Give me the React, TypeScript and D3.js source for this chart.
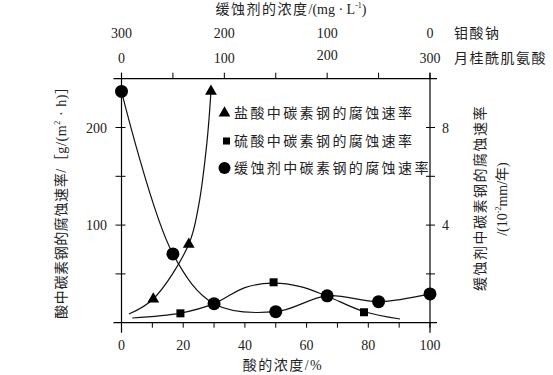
import React from "react";
import * as d3 from "d3";

// acid concentration (%) on the bottom axis
const acidTicks = [0, 10, 20, 30, 40, 50, 60, 70, 80, 90, 100];
const acidLabels = [0, 20, 40, 60, 80, 100];
const leftTicks = [50, 100, 150, 200];
const leftLabels = [100, 200];
const rightTicks = [2, 4, 6, 8];
const rightLabels = [4, 8];
const topTicks = [0, 50, 100, 150, 200, 250, 300];
const molybdateLabels = [300, 200, 100, 0];
const lauroylLabels = [0, 100, 200, 300];

// HCl: [acid %, g/(m2·h)]
const hclMarks: [number, number][] = [[10.3, 24.3], [21.8, 80.3], [29, 237]];
const hclCurve: [number, number][] = [[2.4, 8.9], [10.3, 24.3], [21.8, 80.3], [25, 120], [27.7, 185], [29, 237]];
// H2SO4
const h2so4Marks: [number, number][] = [[19.1, 9.6], [49.3, 41.4], [78.6, 10.7]];
const h2so4Curve: [number, number][] = [[3.5, 4.8], [19.1, 9.8], [30, 19.5], [40, 36], [49, 40.5], [58, 37], [66.5, 27.4], [78.5, 11.5], [90.3, 3.8]];
// inhibitor: lauroyl sarcosine mg/L vs 10^-2 mm/a
const inhConc = [0, 50, 90, 150, 200, 250, 300];
const inhRate = [9.48, 2.82, 0.78, 0.45, 1.1, 0.86, 1.18];

const legendItems = ["盐酸中碳素钢的腐蚀速率", "硫酸中碳素钢的腐蚀速率", "缓蚀剂中碳素钢的腐蚀速率"];

const W = 553;
const H = 375;
const FONT = "'Liberation Serif', 'Noto Sans CJK SC', serif";

export default function App() {
  const x = d3.scaleLinear().domain([0, 100]).range([121.5, 430]);
  const xTop = d3.scaleLinear().domain([0, 300]).range([121.5, 430]); // lauroyl sarcosine
  const xMo = d3.scaleLinear().domain([300, 0]).range([121.5, 430]); // sodium molybdate
  const yL = d3.scaleLinear().domain([0, 250]).range([322.7, 78.7]);
  const yR = d3.scaleLinear().domain([0, 10]).range([322.7, 78.7]);

  const [x0, x1] = x.range();
  const [yb, yt] = yL.range();

  const acidLine = d3
    .line<[number, number]>()
    .x((d) => x(d[0]))
    .y((d) => yL(d[1]))
    .curve(d3.curveCatmullRom.alpha(0.5));

  const inhLine = d3
    .line<number>()
    .x((_, i) => xTop(inhConc[i]))
    .y((d) => yR(d))
    .curve(d3.curveCatmullRom.alpha(0.5));

  const tri = d3.symbol().type(d3.symbolTriangle).size(60)()!;
  const sq = d3.symbol().type(d3.symbolSquare).size(64)()!;

  const legendY = [113, 141, 168];

  return (
    <div style={{ position: "absolute", left: 0, top: 0 }}>
      <svg width={W} height={H} style={{ display: "block", background: "#fff" }} fontFamily={FONT}>
        {/* frame */}
        <g stroke="#000" strokeWidth={1.2} fill="none">
          <line x1={x0 - 8} x2={x1 + 7} y1={yb} y2={yb} />
          <line x1={x0 - 8} x2={x1 + 7} y1={yt} y2={yt} />
          <line x1={x0} x2={x0} y1={yt - 6} y2={yb + 10} />
          <line x1={x1} x2={x1} y1={yt - 6} y2={yb + 10} />
        </g>

        {/* bottom axis */}
        <g stroke="#000" strokeWidth={1}>
          {acidTicks.map((t) => (
            <line key={t} x1={x(t)} x2={x(t)} y1={yb} y2={yb + 5} />
          ))}
        </g>
        <g fontSize={14} textAnchor="middle" fill="#222">
          {acidLabels.map((t) => (
            <text key={t} x={x(t)} y={350}>
              {t}
            </text>
          ))}
        </g>
        <text x={283} y={370} fontSize={14} textAnchor="middle" letterSpacing={1.5} fill="#222">
          酸的浓度/%
        </text>

        {/* top axis */}
        <g stroke="#000" strokeWidth={1}>
          {topTicks.map((t) => (
            <line key={t} x1={xTop(t)} x2={xTop(t)} y1={yt} y2={yt - 6} />
          ))}
        </g>
        <g fontSize={14} textAnchor="middle" fill="#222">
          {molybdateLabels.map((t) => (
            <text key={"m" + t} x={xMo(t)} y={38}>
              {t}
            </text>
          ))}
          {lauroylLabels.map((t) => (
            <text key={"l" + t} x={xTop(t)} y={t === 200 ? 60 : 63}>
              {t}
            </text>
          ))}
        </g>
        <g fontSize={14} fill="#222" letterSpacing={1.5}>
          <text x={454} y={38}>钼酸钠</text>
          <text x={454} y={63}>月桂酰肌氨酸</text>
        </g>
        <text x={291} y={14} fontSize={14} textAnchor="middle" fill="#222">
          <tspan letterSpacing={1.5}>缓蚀剂的浓度</tspan>
          <tspan>/(mg · L</tspan>
          <tspan fontSize={8} dy={-6}>-1</tspan>
          <tspan dy={6}>)</tspan>
        </text>

        {/* left axis */}
        <g stroke="#000" strokeWidth={1}>
          {leftTicks.map((t) => (
            <line key={t} x1={x0 - 6} x2={x0 + 4} y1={yL(t)} y2={yL(t)} />
          ))}
        </g>
        <g fontSize={14} textAnchor="end" fill="#222">
          {leftLabels.map((t) => (
            <text key={t} x={107} y={yL(t) + 5}>
              {t}
            </text>
          ))}
        </g>
        <text
          transform={`translate(66,199) rotate(-90)`}
          fontSize={14}
          textAnchor="middle"
          fill="#222"
          letterSpacing={0.6}
        >
          <tspan>酸中碳素钢的腐蚀速率/［g/(m</tspan>
          <tspan fontSize={8} dy={-6}>2</tspan>
          <tspan dy={6}> · h)］</tspan>
        </text>

        {/* right axis */}
        <g stroke="#000" strokeWidth={1}>
          {rightTicks.map((t) => (
            <line key={t} x1={x1 - 4} x2={x1 + 5} y1={yR(t)} y2={yR(t)} />
          ))}
        </g>
        <g fontSize={14} textAnchor="start" fill="#222">
          {rightLabels.map((t) => (
            <text key={t} x={442} y={yR(t) + 5}>
              {t}
            </text>
          ))}
        </g>
        <text
          transform={`translate(485,198) rotate(-90)`}
          fontSize={14}
          textAnchor="middle"
          fill="#222"
          letterSpacing={1.5}
        >
          缓蚀剂中碳素钢的腐蚀速率
        </text>
        <text transform={`translate(507,199) rotate(-90)`} fontSize={14} textAnchor="middle" fill="#222">
          <tspan>/(10</tspan>
          <tspan fontSize={8} dy={-6}>-2</tspan>
          <tspan dy={6}>mm/年)</tspan>
        </text>

        {/* curves */}
        <g fill="none" stroke="#111" strokeWidth={1.2}>
          <path d={acidLine(hclCurve)!} />
          <path d={acidLine(h2so4Curve)!} />
          <path d={inhLine(inhRate)!} />
        </g>

        {/* markers */}
        <g fill="#000">
          {hclMarks.map((d, i) => (
            <path key={"t" + i} d={tri} transform={`translate(${x(d[0])},${yL(d[1])})`} />
          ))}
          {h2so4Marks.map((d, i) => (
            <path key={"s" + i} d={sq} transform={`translate(${x(d[0])},${yL(d[1])})`} />
          ))}
          {inhRate.map((d, i) => (
            <circle key={"c" + i} cx={xTop(inhConc[i])} cy={yR(d)} r={6.5} />
          ))}
        </g>

        {/* legend */}
        <g>
          <path d={tri} transform={`translate(224.5,${legendY[0]})`} fill="#000" />
          <path d={d3.symbol().type(d3.symbolSquare).size(50)()!} transform={`translate(226.5,${legendY[1]})`} fill="#000" />
          <circle cx={224.5} cy={legendY[2]} r={6} fill="#000" />
          {legendItems.map((s, i) => (
            <text key={s} x={234} y={legendY[i] + 5} fontSize={14} letterSpacing={2.4} fill="#222">
              {s}
            </text>
          ))}
        </g>
      </svg>
    </div>
  );
}
